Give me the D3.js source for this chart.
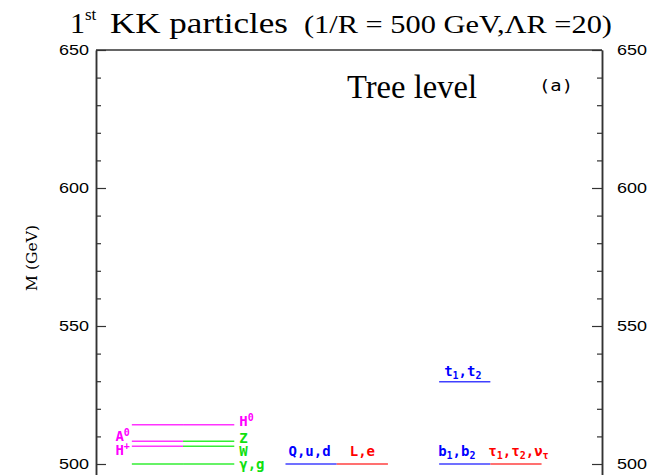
<!DOCTYPE html>
<html>
<head>
<meta charset="utf-8">
<script src="https://cdn.jsdelivr.net/npm/d3@7"></script>
<style>
  body { margin: 0; background: #fff; }
  svg { display: block; }
</style>
</head>
<body>
<svg id="chart" width="654" height="475"></svg>
<script>
// Tree-level masses (GeV) of the first Kaluza-Klein excitations, 1/R = 500 GeV.
// Each level is a short horizontal segment drawn in one column.
const columns      = ["higgs", "gauge", "quark", "lepton", "bquark", "tau"];
const columnSlot   = [0, 1, 3, 4, 6, 7];
const levelColumn  = ["higgs", "gauge", "higgs", "gauge", "higgs", "gauge", "higgs", "gauge",
                      "quark", "lepton", "bquark", "bquark", "tau"];
const levelMass    = [514.2, 514.2, 508.2, 508.2, 506.4, 506.4, 500.0, 500.0,
                      500.0, 500.0, 500.0, 529.8, 500.0];
const levelFamily  = ["higgs", "higgs", "higgs", "gauge", "higgs", "gauge", "gauge", "gauge",
                      "quark", "lepton", "quark", "quark", "lepton"];

// Particle labels: [main, sub/superscript pieces] attached to a column and a mass
const labelText    = [
  [["H"], ["0", "sup"]],
  [["Z"]],
  [["W"]],
  [["γ,g"]],
  [["A"], ["0", "sup"]],
  [["H"], ["+", "sup"]],
  [["Q,u,d"]],
  [["L,e"]],
  [["b"], ["1", "sub"], [",b"], ["2", "sub"]],
  [["τ"], ["1", "sub"], [",τ"], ["2", "sub"], [",ν"], ["τ", "sub"]],
  [["t"], ["1", "sub"], [",t"], ["2", "sub"]]
];
const labelColumn  = ["gauge", "gauge", "gauge", "gauge", "higgs", "higgs",
                      "quark", "lepton", "bquark", "tau", "bquark"];
const labelMass    = [514.2, 508.2, 506.4, 500.0, 508.2, 506.4,
                      500.0, 500.0, 500.0, 500.0, 529.8];
const labelFamily  = ["higgs", "gauge", "gauge", "gauge", "higgs", "higgs",
                      "quark", "lepton", "quark", "lepton", "quark"];

// Axis ticks (GeV)
const majorTicks = [500, 550, 600, 650];
const minorTicks = [510, 520, 530, 540, 560, 570, 580, 590, 610, 620, 630, 640];

// ---- drawing ----
const textColor = { higgs: "#ff00ff", gauge: "#10e010", quark: "#0000ff", lepton: "#ff0000" };
const lineColor = { higgs: "#ff33ff", gauge: "#33ee33", quark: "#4040ff", lepton: "#ff4040" };

// label placement relative to its column segment: side, x nudge, baseline nudge
const labelSide = ["right", "right", "right", "right", "left", "left",
                   "above", "above", "above", "above", "above"];
const labelDx   = [5, 5, 5, 5, -2, -2, 3, 13, -1, -2, 5];
const labelDy   = [1.5, 1.5, 10, 4.5, 0, 8.5, -8, -8, -8, -8, -6];

const svg = d3.select("#chart");
const left = 96, right = 602;

const x = d3.scaleLinear().domain([-0.7, 9.18]).range([left, right]);
const y = d3.scaleLinear().domain([470, 650]).range([464 + 30 * 414 / 150, 50]);

const slotOf = Object.fromEntries(columns.map((c, i) => [c, columnSlot[i]]));

// axes
const axisStroke = "#333";
const tickFont = "'Liberation Sans', Arial, sans-serif";

const gl = svg.append("g").attr("transform", `translate(${left},0)`)
  .call(d3.axisLeft(y).tickValues(majorTicks).tickSize(-10).tickSizeOuter(0).tickPadding(7));
const glm = svg.append("g").attr("transform", `translate(${left},0)`)
  .call(d3.axisLeft(y).tickValues(minorTicks).tickSize(-5).tickSizeOuter(0).tickFormat(""));
const gr = svg.append("g").attr("transform", `translate(${right},0)`)
  .call(d3.axisRight(y).tickValues(majorTicks).tickSize(-10).tickSizeOuter(0).tickPadding(15));
const grm = svg.append("g").attr("transform", `translate(${right},0)`)
  .call(d3.axisRight(y).tickValues(minorTicks).tickSize(-5).tickSizeOuter(0).tickFormat(""));

[gl, glm, gr, grm].forEach(g => {
  g.selectAll("path.domain").attr("stroke", axisStroke).attr("stroke-width", 1.5);
  g.selectAll(".tick line").attr("stroke", axisStroke).attr("stroke-width", 1.2);
  g.selectAll(".tick text")
    .attr("fill", "#000")
    .attr("font-family", tickFont)
    .attr("font-size", 15)
    .attr("textLength", 30)
    .attr("lengthAdjust", "spacingAndGlyphs");
});

// top frame
svg.append("line")
  .attr("x1", left).attr("x2", right)
  .attr("y1", y(650)).attr("y2", y(650))
  .attr("stroke", axisStroke).attr("stroke-width", 1.5);

// energy levels
svg.append("g").selectAll("line")
  .data(levelMass.map((m, i) => ({ m, col: levelColumn[i], fam: levelFamily[i] })))
  .join("line")
  .attr("x1", d => x(slotOf[d.col]))
  .attr("x2", d => x(slotOf[d.col] + 1))
  .attr("y1", d => y(d.m))
  .attr("y2", d => y(d.m))
  .attr("stroke", d => lineColor[d.fam])
  .attr("stroke-width", 1.5);

// particle labels
const labelFont = "'DejaVu Sans Mono', monospace";
const labelSize = 14;
labelText.forEach((pieces, i) => {
  const slot = slotOf[labelColumn[i]];
  const side = labelSide[i];
  const bx = side === "right" ? x(slot + 1) + labelDx[i] : x(slot) + labelDx[i];
  const t = svg.append("text")
    .attr("x", bx)
    .attr("y", y(labelMass[i]) + labelDy[i])
    .attr("fill", textColor[labelFamily[i]])
    .attr("font-family", labelFont)
    .attr("font-weight", "bold")
    .attr("font-size", labelSize)
    .attr("text-anchor", side === "left" ? "end" : "start");
  let shift = 0;
  pieces.forEach(([s, kind]) => {
    const target = kind === "sup" ? -5.5 : kind === "sub" ? 3 : 0;
    t.append("tspan")
      .attr("dy", target - shift)
      .attr("font-size", kind ? 10 : labelSize)
      .text(s);
    shift = target;
  });
});

// y-axis title
svg.append("text")
  .attr("transform", "translate(37,258) rotate(-90)")
  .attr("text-anchor", "middle")
  .attr("font-family", "'DejaVu Serif', serif")
  .attr("font-size", 14)
  .attr("fill", "#000")
  .attr("textLength", 66)
  .attr("lengthAdjust", "spacingAndGlyphs")
  .text("M (GeV)");

// chart title
const serif = "'Liberation Serif', 'Times New Roman', serif";
svg.append("text").attr("x", 70).attr("y", 33)
  .attr("font-family", serif).attr("font-size", 30).text("1");
svg.append("text").attr("x", 85).attr("y", 20)
  .attr("font-family", serif).attr("font-size", 17).text("st");
svg.append("text").attr("x", 110).attr("y", 33)
  .attr("font-family", serif).attr("font-size", 30)
  .attr("textLength", 178).attr("lengthAdjust", "spacingAndGlyphs")
  .text("KK particles");
svg.append("text").attr("x", 304).attr("y", 33)
  .attr("font-family", serif).attr("font-size", 25)
  .attr("textLength", 308).attr("lengthAdjust", "spacingAndGlyphs")
  .text("(1/R = 500 GeV,ΛR =20)");

// panel annotations
svg.append("text").attr("x", 347).attr("y", 98)
  .attr("font-family", serif).attr("font-size", 33)
  .attr("textLength", 130).attr("lengthAdjust", "spacingAndGlyphs")
  .text("Tree level");
svg.append("text").attr("x", 539).attr("y", 91)
  .attr("font-family", "'DejaVu Sans Mono', monospace").attr("font-size", 15)
  .attr("textLength", 34).attr("lengthAdjust", "spacingAndGlyphs")
  .text("(a)");
</script>
</body>
</html>
